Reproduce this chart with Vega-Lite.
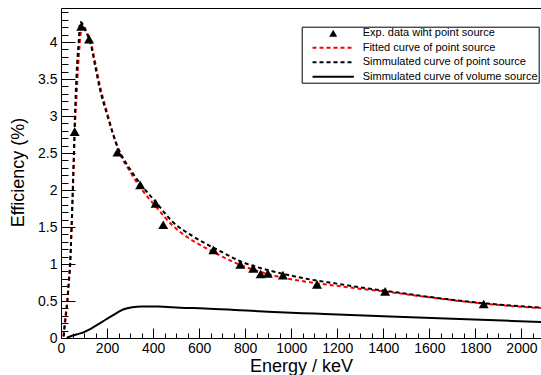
{
  "$schema": "https://vega.github.io/schema/vega-lite/v6.json",
  "width": 480,
  "height": 330,
  "autosize": {"type": "none"},
  "padding": {"left": 61, "top": 8, "right": 0, "bottom": 37},
  "config": {
    "font": "Liberation Sans",
    "view": {"stroke": null},
    "axis": {"grid": false}
  },
  "datasets": {
    "exp": [
      {"series": "Exp. data wiht point source", "E": 59.5, "eff": 2.79},
      {"series": "Exp. data wiht point source", "E": 88, "eff": 4.21},
      {"series": "Exp. data wiht point source", "E": 122, "eff": 4.04},
      {"series": "Exp. data wiht point source", "E": 245, "eff": 2.51},
      {"series": "Exp. data wiht point source", "E": 344, "eff": 2.07},
      {"series": "Exp. data wiht point source", "E": 411, "eff": 1.82},
      {"series": "Exp. data wiht point source", "E": 444, "eff": 1.53},
      {"series": "Exp. data wiht point source", "E": 662, "eff": 1.19},
      {"series": "Exp. data wiht point source", "E": 779, "eff": 0.995},
      {"series": "Exp. data wiht point source", "E": 835, "eff": 0.94},
      {"series": "Exp. data wiht point source", "E": 867, "eff": 0.865},
      {"series": "Exp. data wiht point source", "E": 898, "eff": 0.874},
      {"series": "Exp. data wiht point source", "E": 964, "eff": 0.85},
      {"series": "Exp. data wiht point source", "E": 1112, "eff": 0.725},
      {"series": "Exp. data wiht point source", "E": 1408, "eff": 0.63},
      {"series": "Exp. data wiht point source", "E": 1836, "eff": 0.46}
    ],
    "volume": [
      {"series": "Simmulated curve of volume source", "E": 25, "eff": 0.0},
      {"series": "Simmulated curve of volume source", "E": 40, "eff": 0.02},
      {"series": "Simmulated curve of volume source", "E": 70, "eff": 0.05},
      {"series": "Simmulated curve of volume source", "E": 100, "eff": 0.08},
      {"series": "Simmulated curve of volume source", "E": 120, "eff": 0.11},
      {"series": "Simmulated curve of volume source", "E": 150, "eff": 0.165},
      {"series": "Simmulated curve of volume source", "E": 190, "eff": 0.24},
      {"series": "Simmulated curve of volume source", "E": 230, "eff": 0.315},
      {"series": "Simmulated curve of volume source", "E": 260, "eff": 0.37},
      {"series": "Simmulated curve of volume source", "E": 280, "eff": 0.395},
      {"series": "Simmulated curve of volume source", "E": 310, "eff": 0.415},
      {"series": "Simmulated curve of volume source", "E": 350, "eff": 0.425},
      {"series": "Simmulated curve of volume source", "E": 420, "eff": 0.425},
      {"series": "Simmulated curve of volume source", "E": 517, "eff": 0.41},
      {"series": "Simmulated curve of volume source", "E": 625, "eff": 0.4},
      {"series": "Simmulated curve of volume source", "E": 777, "eff": 0.375},
      {"series": "Simmulated curve of volume source", "E": 900, "eff": 0.355},
      {"series": "Simmulated curve of volume source", "E": 1100, "eff": 0.33},
      {"series": "Simmulated curve of volume source", "E": 1429, "eff": 0.29},
      {"series": "Simmulated curve of volume source", "E": 1700, "eff": 0.26},
      {"series": "Simmulated curve of volume source", "E": 2085, "eff": 0.216}
    ],
    "curves": [
      {"series": "Fitted curve of point source", "E": 10, "eff": 0.02},
      {"series": "Fitted curve of point source", "E": 14, "eff": 0.15},
      {"series": "Fitted curve of point source", "E": 20, "eff": 0.32},
      {"series": "Fitted curve of point source", "E": 27, "eff": 0.5},
      {"series": "Fitted curve of point source", "E": 33, "eff": 0.75},
      {"series": "Fitted curve of point source", "E": 39, "eff": 1.0},
      {"series": "Fitted curve of point source", "E": 46, "eff": 1.5},
      {"series": "Fitted curve of point source", "E": 52, "eff": 2.0},
      {"series": "Fitted curve of point source", "E": 57, "eff": 2.5},
      {"series": "Fitted curve of point source", "E": 62, "eff": 2.95},
      {"series": "Fitted curve of point source", "E": 68, "eff": 3.3},
      {"series": "Fitted curve of point source", "E": 75, "eff": 3.7},
      {"series": "Fitted curve of point source", "E": 82, "eff": 4.0},
      {"series": "Fitted curve of point source", "E": 88, "eff": 4.17},
      {"series": "Fitted curve of point source", "E": 94, "eff": 4.23},
      {"series": "Fitted curve of point source", "E": 102, "eff": 4.2},
      {"series": "Fitted curve of point source", "E": 112, "eff": 4.13},
      {"series": "Fitted curve of point source", "E": 126, "eff": 4.04},
      {"series": "Fitted curve of point source", "E": 150, "eff": 3.7},
      {"series": "Fitted curve of point source", "E": 170, "eff": 3.4},
      {"series": "Fitted curve of point source", "E": 200, "eff": 3.05},
      {"series": "Fitted curve of point source", "E": 249, "eff": 2.54},
      {"series": "Fitted curve of point source", "E": 300, "eff": 2.25},
      {"series": "Fitted curve of point source", "E": 343, "eff": 2.04},
      {"series": "Fitted curve of point source", "E": 411, "eff": 1.78},
      {"series": "Fitted curve of point source", "E": 488, "eff": 1.51},
      {"series": "Fitted curve of point source", "E": 560, "eff": 1.34},
      {"series": "Fitted curve of point source", "E": 632, "eff": 1.21},
      {"series": "Fitted curve of point source", "E": 700, "eff": 1.1},
      {"series": "Fitted curve of point source", "E": 777, "eff": 0.99},
      {"series": "Fitted curve of point source", "E": 850, "eff": 0.91},
      {"series": "Fitted curve of point source", "E": 922, "eff": 0.845},
      {"series": "Fitted curve of point source", "E": 1067, "eff": 0.76},
      {"series": "Fitted curve of point source", "E": 1197, "eff": 0.705},
      {"series": "Fitted curve of point source", "E": 1300, "eff": 0.665},
      {"series": "Fitted curve of point source", "E": 1414, "eff": 0.625},
      {"series": "Fitted curve of point source", "E": 1600, "eff": 0.55},
      {"series": "Fitted curve of point source", "E": 1836, "eff": 0.465},
      {"series": "Fitted curve of point source", "E": 2085, "eff": 0.405},
      {"series": "Simmulated curve of point source", "E": 12, "eff": 0.02},
      {"series": "Simmulated curve of point source", "E": 16, "eff": 0.15},
      {"series": "Simmulated curve of point source", "E": 22, "eff": 0.32},
      {"series": "Simmulated curve of point source", "E": 28, "eff": 0.5},
      {"series": "Simmulated curve of point source", "E": 34, "eff": 0.75},
      {"series": "Simmulated curve of point source", "E": 40, "eff": 1.0},
      {"series": "Simmulated curve of point source", "E": 46, "eff": 1.5},
      {"series": "Simmulated curve of point source", "E": 51, "eff": 2.0},
      {"series": "Simmulated curve of point source", "E": 56, "eff": 2.5},
      {"series": "Simmulated curve of point source", "E": 60, "eff": 2.95},
      {"series": "Simmulated curve of point source", "E": 64, "eff": 3.3},
      {"series": "Simmulated curve of point source", "E": 70, "eff": 3.7},
      {"series": "Simmulated curve of point source", "E": 78, "eff": 4.05},
      {"series": "Simmulated curve of point source", "E": 83, "eff": 4.27},
      {"series": "Simmulated curve of point source", "E": 90, "eff": 4.26},
      {"series": "Simmulated curve of point source", "E": 100, "eff": 4.2},
      {"series": "Simmulated curve of point source", "E": 110, "eff": 4.13},
      {"series": "Simmulated curve of point source", "E": 126, "eff": 4.01},
      {"series": "Simmulated curve of point source", "E": 150, "eff": 3.65},
      {"series": "Simmulated curve of point source", "E": 170, "eff": 3.35},
      {"series": "Simmulated curve of point source", "E": 200, "eff": 3.02},
      {"series": "Simmulated curve of point source", "E": 249, "eff": 2.56},
      {"series": "Simmulated curve of point source", "E": 300, "eff": 2.28},
      {"series": "Simmulated curve of point source", "E": 343, "eff": 2.09},
      {"series": "Simmulated curve of point source", "E": 411, "eff": 1.84},
      {"series": "Simmulated curve of point source", "E": 488, "eff": 1.56},
      {"series": "Simmulated curve of point source", "E": 560, "eff": 1.4},
      {"series": "Simmulated curve of point source", "E": 632, "eff": 1.27},
      {"series": "Simmulated curve of point source", "E": 700, "eff": 1.16},
      {"series": "Simmulated curve of point source", "E": 777, "eff": 1.04},
      {"series": "Simmulated curve of point source", "E": 850, "eff": 0.96},
      {"series": "Simmulated curve of point source", "E": 922, "eff": 0.9},
      {"series": "Simmulated curve of point source", "E": 1067, "eff": 0.8},
      {"series": "Simmulated curve of point source", "E": 1197, "eff": 0.735},
      {"series": "Simmulated curve of point source", "E": 1300, "eff": 0.685},
      {"series": "Simmulated curve of point source", "E": 1414, "eff": 0.635},
      {"series": "Simmulated curve of point source", "E": 1600, "eff": 0.555},
      {"series": "Simmulated curve of point source", "E": 1836, "eff": 0.47},
      {"series": "Simmulated curve of point source", "E": 2085, "eff": 0.41}
    ]
  },
  "layer": [
    {
      "data": {"name": "volume"},
      "mark": {"type": "line", "strokeWidth": 2, "interpolate": "monotone"},
      "encoding": {
        "x": {
          "field": "E", "type": "quantitative",
          "scale": {"domain": [0, 2085], "nice": false, "zero": false},
          "axis": {
            "orient": "bottom",
            "values": [0,200,400,600,800,1000,1200,1400,1600,1800,2000],
            "format": "d",
            "tickSize": -10,
            "tickColor": "black",
            "tickWidth": 1,
            "domainColor": "black",
            "domainWidth": 1,
            "labelFontSize": 14,
            "labelColor": "black",
            "labelPadding": 13,
            "labelOverlap": false,
            "labelFlush": false,
            "title": "Energy / keV",
            "titleFontSize": 18,
            "titleFontWeight": "normal",
            "titleColor": "black",
            "titleY": 33,
            "titleBaseline": "alphabetic"
          }
        },
        "y": {
          "field": "eff", "type": "quantitative",
          "scale": {"domain": [0, 4.46], "nice": false, "zero": false},
          "axis": {
            "orient": "left",
            "values": [0,0.5,1,1.5,2,2.5,3,3.5,4],
            "labelExpr": "format(datum.value, '~g')",
            "tickSize": -14,
            "tickColor": "black",
            "tickWidth": 1,
            "domainColor": "black",
            "domainWidth": 1,
            "labelFontSize": 14,
            "labelColor": "black",
            "labelPadding": 18,
            "labelOverlap": false,
            "labelFlush": false,
            "title": "Efficiency (%)",
            "titleFontSize": 18,
            "titleFontWeight": "normal",
            "titleColor": "black",
            "titleX": -38,
            "titleY": 164,
            "titleBaseline": "alphabetic"
          }
        },
        "color": {
          "field": "series", "type": "nominal",
          "scale": {
            "domain": ["Exp. data wiht point source", "Fitted curve of point source", "Simmulated curve of point source", "Simmulated curve of volume source"],
            "range": ["black", "red", "black", "black"]
          },
          "legend": {
            "orient": "none",
            "legendX": 240.7,
            "legendY": 18.7,
            "title": null,
            "strokeColor": "black",
            "fillColor": "white",
            "padding": 1,
            "symbolSize": 190,
            "symbolOffset": 25,
            "labelOffset": 24,
            "rowPadding": 2.5,
            "labelFontSize": 11,
            "labelColor": "black",
            "labelLimit": 0,
            "cornerRadius": 0,
            "encode": {
              "symbols": {
                "update": {
                  "shape": {"signal": "datum.value === 'Exp. data wiht point source' ? 'triangle-up' : 'M-3,0H3'"},
                  "size": {"signal": "datum.value === 'Exp. data wiht point source' ? 64 : 190"},
                  "fill": {"signal": "datum.value === 'Exp. data wiht point source' ? 'black' : 'transparent'"},
                  "stroke": {"signal": "datum.value === 'Fitted curve of point source' ? 'red' : 'black'"},
                  "strokeWidth": {"signal": "datum.value === 'Exp. data wiht point source' ? 0 : 2"},
                  "strokeDash": {"signal": "(datum.value === 'Fitted curve of point source' || datum.value === 'Simmulated curve of point source') ? [4,3] : [1,0]"}
                }
              }
            }
          }
        }
      }
    },
    {
      "data": {"name": "curves"},
      "mark": {"type": "line", "strokeWidth": 2, "strokeDash": [4, 3], "interpolate": "monotone"},
      "encoding": {
        "x": {
          "field": "E", "type": "quantitative",
          "scale": {"domain": [0, 2085], "nice": false, "zero": false},
          "axis": {"orient": "top", "ticks": false, "labels": false, "title": null, "domain": true, "domainColor": "black", "domainWidth": 1}
        },
        "y": {
          "field": "eff", "type": "quantitative",
          "scale": {"domain": [0, 4.46], "nice": false, "zero": false},
          "axis": null
        },
        "color": {
          "field": "series", "type": "nominal",
          "scale": {
            "domain": ["Exp. data wiht point source", "Fitted curve of point source", "Simmulated curve of point source", "Simmulated curve of volume source"],
            "range": ["black", "red", "black", "black"]
          }
        }
      }
    },
    {
      "data": {"name": "exp"},
      "mark": {"type": "point", "shape": "triangle-up", "filled": true, "size": 100, "opacity": 1},
      "encoding": {
        "x": {
          "field": "E", "type": "quantitative",
          "scale": {"domain": [0, 2085], "nice": false, "zero": false},
          "axis": {
            "orient": "bottom",
            "values": [50,100,150,250,300,350,450,500,550,650,700,750,850,900,950,1050,1100,1150,1250,1300,1350,1450,1500,1550,1650,1700,1750,1850,1900,1950,2050],
            "tickSize": -5, "tickColor": "black", "tickWidth": 1,
            "labels": false, "domain": false, "title": null
          }
        },
        "y": {
          "field": "eff", "type": "quantitative",
          "scale": {"domain": [0, 4.46], "nice": false, "zero": false},
          "axis": {
            "orient": "left",
            "values": [0.1,0.2,0.3,0.4,0.6,0.7,0.8,0.9,1.1,1.2,1.3,1.4,1.6,1.7,1.8,1.9,2.1,2.2,2.3,2.4,2.6,2.7,2.8,2.9,3.1,3.2,3.3,3.4,3.6,3.7,3.8,3.9,4.1,4.2,4.3,4.4],
            "tickSize": -7, "tickColor": "black", "tickWidth": 1,
            "labels": false, "domain": false, "title": null
          }
        },
        "color": {
          "field": "series", "type": "nominal",
          "scale": {
            "domain": ["Exp. data wiht point source", "Fitted curve of point source", "Simmulated curve of point source", "Simmulated curve of volume source"],
            "range": ["black", "red", "black", "black"]
          }
        }
      }
    }
  ],
  "resolve": {"axis": {"x": "independent", "y": "independent"}}
}
